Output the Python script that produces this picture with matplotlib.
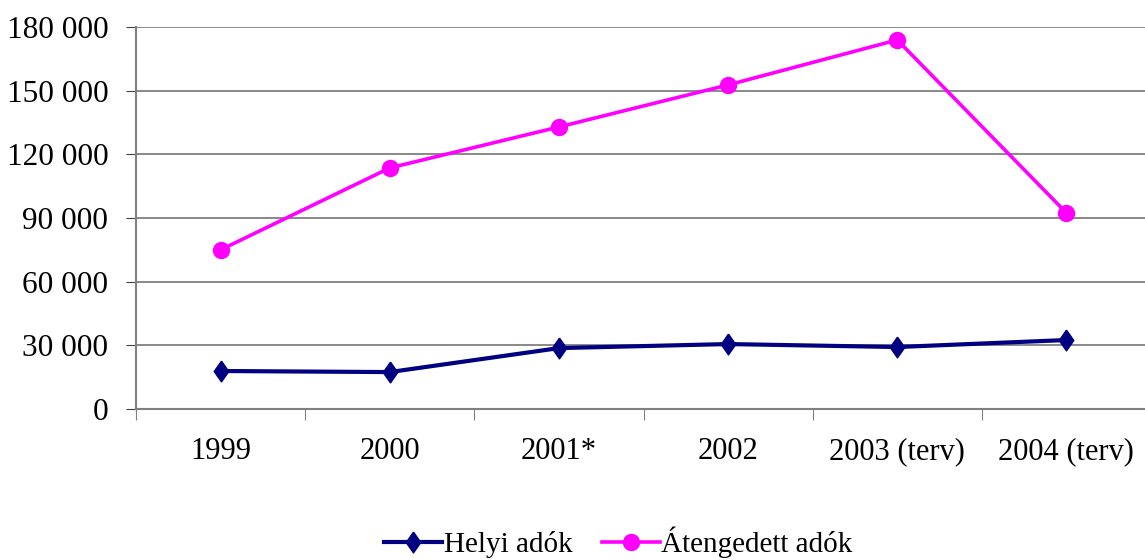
import matplotlib.pyplot as plt

years = ['1999', '2000', '2001*', '2002', '2003 (terv)', '2004 (terv)']
helyi = [17900, 17400, 28700, 30600, 29200, 32500]
atengedett = [75000, 113600, 132900, 152700, 173900, 92400]
yticks = [0, 30000, 60000, 90000, 120000, 150000, 180000]

plt.rcParams['font.family'] = ['Liberation Serif', 'DejaVu Serif']

fig = plt.figure(figsize=(11.45, 5.6), dpi=100)
ax = fig.add_axes([136 / 1145, 1 - 409 / 560, (1151 - 136) / 1145, (409 - 27) / 560])

diamond = [(0, 1), (0.7, 0), (0, -1), (-0.7, 0), (0, 1)]
x = [i + 0.5 for i in range(len(years))]
ax.plot(x, helyi, color='#000080', linewidth=3, marker=diamond, markersize=15,
        label='Helyi adók', zorder=3)
ax.plot(x, atengedett, color='#FF00FF', linewidth=2.6, marker='o', markersize=11.5,
        label='Átengedett adók', zorder=3)

ax.set_xlim(0, len(years))
ax.set_ylim(0, 180000)
ax.set_yticks(yticks)
ax.set_yticklabels([f'{v:,}'.replace(',', ' ') for v in yticks], fontsize=22.5)
ax.set_xticks(range(len(years) + 1))
ax.set_xticklabels([])
ax.set_xticks(x, minor=True)
ax.set_xticklabels(years, minor=True, fontsize=22)
ax.tick_params(axis='x', which='minor', length=0, pad=20)
ax.tick_params(axis='x', which='major', length=8, color='#808080')
ax.tick_params(axis='y', length=7, color='#404040', pad=13)

ax.grid(axis='y', color='#808080', linewidth=1.3)
ax.set_axisbelow(True)
for s in ['top', 'right']:
    ax.spines[s].set_visible(False)
ax.spines['left'].set_color('#808080')
ax.spines['left'].set_linewidth(1.5)
ax.spines['bottom'].set_color('#808080')
ax.spines['bottom'].set_linewidth(1.5)

fig.legend(loc='center', bbox_to_anchor=(0.54, 1 - 542 / 560), ncol=2, frameon=False,
           fontsize=21, handlelength=2.0, handletextpad=0.05, columnspacing=1.0,
           borderpad=0.1)

fig.savefig('out.png', dpi=100)
